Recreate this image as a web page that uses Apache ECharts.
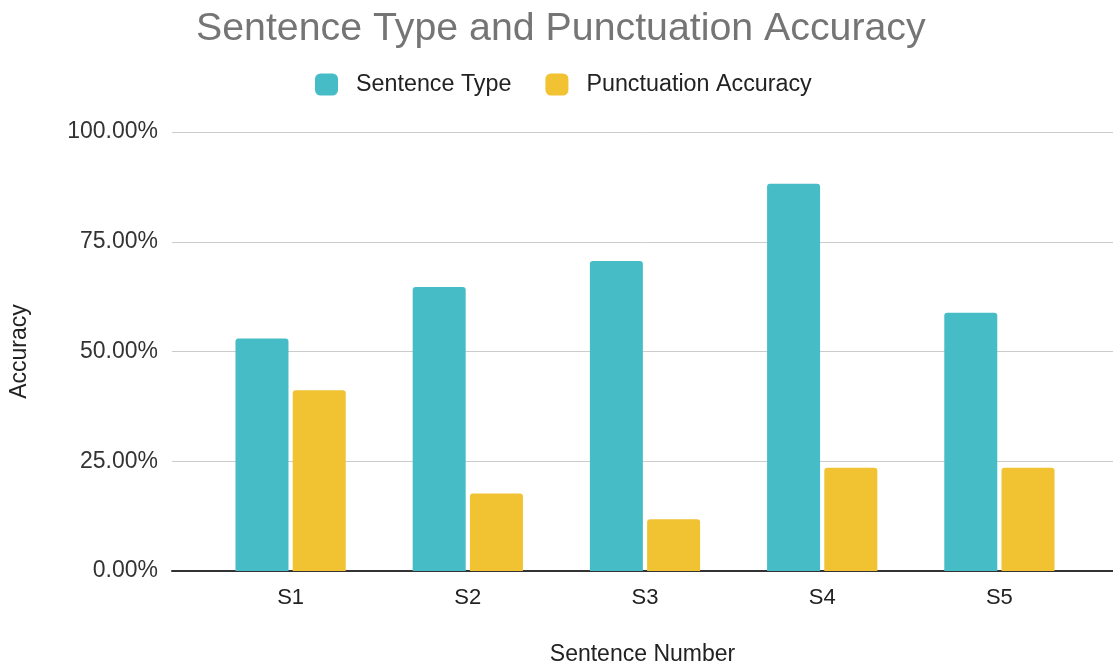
<!DOCTYPE html>
<html>
<head>
<meta charset="utf-8">
<script src="https://cdn.jsdelivr.net/npm/echarts@6/dist/echarts.min.js"></script>
<style>
  html, body { margin: 0; padding: 0; background: #fff; }
  #chart { width: 1113px; height: 667px; }
</style>
</head>
<body>
<div id="chart"></div>
<script>
// Sentence-level scores
const categories = ['S1', 'S2', 'S3', 'S4', 'S5'];
const sentenceType = [0.5294, 0.6471, 0.7059, 0.8824, 0.5882];
const punctuationAccuracy = [0.4118, 0.1765, 0.1176, 0.2353, 0.2353];
const yTicks = [0, 0.25, 0.5, 0.75, 1];

const FONT = '"Liberation Sans", Arial, sans-serif';
const chart = echarts.init(document.getElementById('chart'), null, { renderer: 'canvas' });

const plotTop = 132, plotBottom = 96;

chart.setOption({
  backgroundColor: '#ffffff',
  animation: false,
  textStyle: { fontFamily: FONT },
  title: {
    text: 'Sentence Type and Punctuation Accuracy',
    left: 196,
    top: 10,
    padding: 0,
    textStyle: { fontFamily: FONT, fontSize: 39.3, fontWeight: 'normal', color: '#757575' }
  },
  legend: {
    top: 68,
    left: 310,
    icon: 'roundRect',
    itemWidth: 23,
    itemHeight: 22,
    itemGap: 34,
    textStyle: { fontFamily: FONT, fontSize: 23.3, color: '#222', padding: [0, 0, 0, 13] },
    data: ['Sentence Type', 'Punctuation Accuracy']
  },
  grid: [
    // frame with gridlines and baseline spanning the full width
    { left: 172, right: 0, top: plotTop, bottom: plotBottom, outerBoundsMode: 'none', containLabel: false },
    // inner band holding the bars
    { left: 202, right: 25, top: plotTop, bottom: plotBottom, outerBoundsMode: 'none', containLabel: false }
  ],
  xAxis: [
    {
      gridIndex: 0,
      type: 'value',
      min: 0, max: 1,
      axisLine: { show: true, lineStyle: { color: '#333', width: 2 } },
      axisTick: { show: false },
      axisLabel: { show: false },
      splitLine: { show: false },
      name: 'Sentence Number',
      nameLocation: 'middle',
      nameGap: 72,
      nameTextStyle: { fontFamily: FONT, fontSize: 23, color: '#222' }
    },
    {
      gridIndex: 1,
      type: 'category',
      data: categories,
      axisLine: { show: false },
      axisTick: { show: false },
      axisLabel: { fontFamily: FONT, fontSize: 22, color: '#222', margin: 16 },
      splitLine: { show: false }
    }
  ],
  yAxis: [
    {
      gridIndex: 0,
      type: 'value',
      min: yTicks[0],
      max: yTicks[yTicks.length - 1],
      interval: yTicks[1] - yTicks[0],
      axisLine: { show: false },
      axisTick: { show: false },
      axisLabel: {
        fontFamily: FONT, fontSize: 23, color: '#333', margin: 14,
        formatter: v => (v * 100).toFixed(2) + '%'
      },
      splitLine: { show: true, lineStyle: { color: '#cccccc', width: 1 } },
      name: 'Accuracy',
      nameLocation: 'middle',
      nameGap: 141,
      nameRotate: 90,
      nameTextStyle: { fontFamily: FONT, fontSize: 23, color: '#222' }
    },
    {
      gridIndex: 1,
      type: 'value',
      min: yTicks[0],
      max: yTicks[yTicks.length - 1],
      show: false,
      splitLine: { show: false }
    }
  ],
  series: [
    {
      name: 'Sentence Type',
      type: 'bar',
      xAxisIndex: 1,
      yAxisIndex: 1,
      data: sentenceType,
      barWidth: 53,
      barGap: '8%',
      itemStyle: { color: '#46bdc6', borderRadius: [3, 3, 0, 0] }
    },
    {
      name: 'Punctuation Accuracy',
      type: 'bar',
      xAxisIndex: 1,
      yAxisIndex: 1,
      data: punctuationAccuracy,
      barWidth: 53,
      itemStyle: { color: '#f1c232', borderRadius: [3, 3, 0, 0] }
    }
  ]
});
</script>
</body>
</html>
